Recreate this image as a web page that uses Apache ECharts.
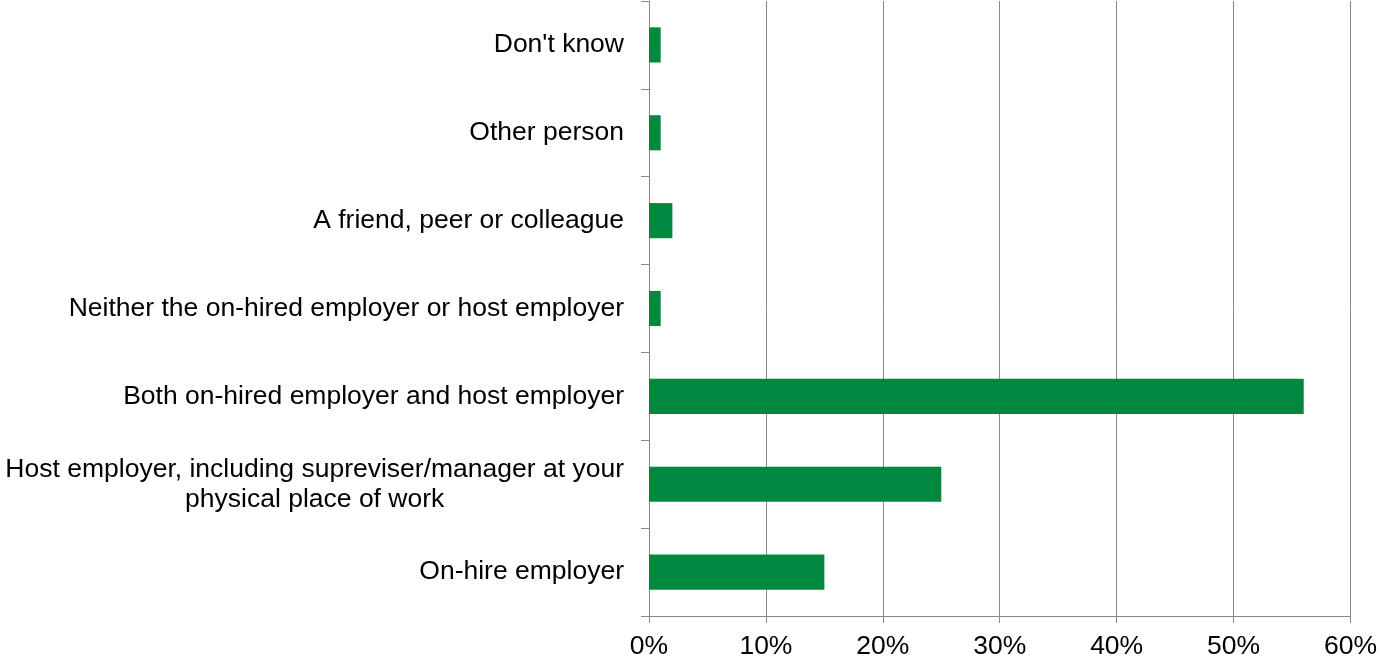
<!DOCTYPE html>
<html>
<head>
<meta charset="utf-8">
<script src="https://cdn.jsdelivr.net/npm/echarts@6/dist/echarts.min.js"></script>
<style>
  html, body { margin: 0; padding: 0; background: #fff; }
  #chart { width: 1380px; height: 660px; }
</style>
</head>
<body>
<div id="chart"></div>
<script>
// Who respondents would go to (share of responses)
const categories = [
  "Don't know",
  "Other person",
  "A friend, peer or colleague",
  "Neither the on-hired employer or host employer",
  "Both on-hired employer and host employer",
  "Host employer, including supreviser/manager at your\nphysical place of work",
  "On-hire employer"
];
const values = [1, 1, 2, 1, 56, 25, 15];
const xTicks = { min: 0, max: 60, interval: 10 };

const FONT = "'Liberation Sans', Arial, sans-serif";
const GRAY = '#898989';

const chart = echarts.init(document.getElementById('chart'), null, { renderer: 'canvas' });

chart.setOption({
  animation: false,
  backgroundColor: '#ffffff',
  grid: { left: 649, right: 26, top: 1, bottom: 41, containLabel: false },
  xAxis: {
    type: 'value',
    min: xTicks.min,
    max: xTicks.max,
    interval: xTicks.interval,
    axisLine: { show: true, lineStyle: { color: GRAY, width: 1 } },
    axisTick: { show: true, length: 7, lineStyle: { color: GRAY } },
    splitLine: { show: true, lineStyle: { color: GRAY, width: 1 } },
    axisLabel: {
      formatter: '{value}%',
      color: '#000',
      fontFamily: FONT,
      fontSize: 26.5,
      margin: 17
    }
  },
  yAxis: {
    type: 'category',
    inverse: true,
    data: categories,
    axisLine: { show: true, lineStyle: { color: GRAY, width: 1 } },
    axisTick: { show: true, length: 8, lineStyle: { color: GRAY } },
    splitLine: { show: false },
    axisLabel: {
      margin: 25,
      align: 'right',
      formatter: (v) => v.split('\n').map((s) => '{a|' + s + '}').join('\n'),
      rich: {
        a: {
          align: 'center',
          color: '#000',
          fontFamily: FONT,
          fontSize: 26.5,
          lineHeight: 30
        }
      }
    }
  },
  series: [{
    type: 'bar',
    data: values,
    barCategoryGap: '60%',
    itemStyle: { color: '#00893E' }
  }]
});
</script>
</body>
</html>
